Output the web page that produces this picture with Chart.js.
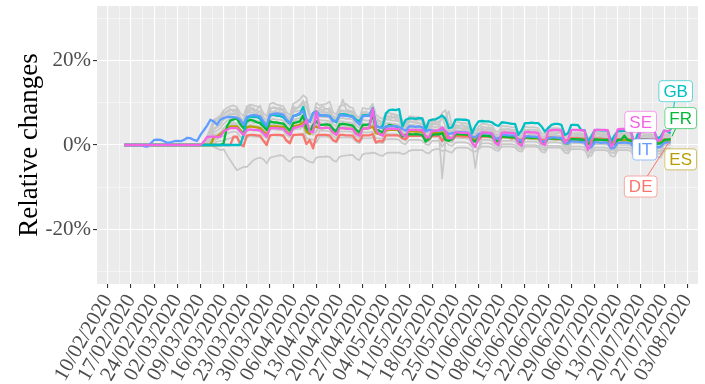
<!DOCTYPE html>
<html>
<head>
<meta charset="utf-8">
<script src="https://cdn.jsdelivr.net/npm/chart.js@4.4.0/dist/chart.umd.min.js"></script>
<style>
  html, body { margin: 0; padding: 0; background: #fff; }
  canvas { display: block; }
</style>
</head>
<body>
<canvas id="chart" width="705" height="384"></canvas>
<script>
// week ticks (Mondays); x values are days after 10/02/2020
const weekLabels = ['10/02/2020', '17/02/2020', '24/02/2020', '02/03/2020', '09/03/2020', '16/03/2020',
  '23/03/2020', '30/03/2020', '06/04/2020', '13/04/2020', '20/04/2020', '27/04/2020', '04/05/2020',
  '11/05/2020', '18/05/2020', '25/05/2020', '01/06/2020', '08/06/2020', '15/06/2020', '22/06/2020',
  '29/06/2020', '06/07/2020', '13/07/2020', '20/07/2020', '27/07/2020', '03/08/2020'];
const firstDay = 5; // 15/02/2020
const yTickValues = [-30, -20, -10, 0, 10, 20, 30];
const countries = ['DE', 'ES', 'FR', 'GB', 'IT', 'SE'];

// daily relative changes in %, one row per week (Mon..Sun), from 15/02/2020 to 29/07/2020
const de = [0, 0,
  0, 0, 0, 0, 0, 0, 0,
  0, 0, 0, 0, 0, 0, 0,
  0, 0, 0, 0, 0, 0, 0,
  0, 0, 0, 0, 0, 0, 0,
  0, 0, 0, 2.0, 2.0, 0.2, -0.3,
  2.2, 2.4, 2.4, 2.3, 2.2, 1.0, 0.0,
  2.3, 2.4, 2.4, 2.4, 2.3, 1.0, 0.4,
  2.4, 2.4, 2.5, 2.4, 0.2, 1.2, -0.8,
  2.2, 2.4, 2.4, 2.4, 2.3, 1.2, 0.8,
  2.4, 2.4, 2.3, 2.3, 2.2, 1.2, 0.8,
  2.3, 2.3, 2.3, 2.6, 0.6, 1.0, 0.8,
  2.3, 2.3, 2.3, 2.3, 2.2, 1.6, 1.4,
  2.2, 2.2, 2.2, 2.2, 2.1, 1.5, 1.3,
  2.1, 2.1, 2.2, 1.0, 2.0, 1.5, 1.3,
  2.1, 2.1, 2.0, 2.0, 2.0, 1.4, 1.2,
  1.2, 2.0, 2.0, 2.0, 1.9, 1.4, 1.2,
  2.0, 2.0, 2.0, 1.5, 1.9, 1.4, 1.2,
  1.9, 1.9, 1.9, 1.9, 1.8, 1.3, 1.2,
  1.8, 1.8, 1.7, 1.7, 1.7, 1.2, 1.1,
  1.6, 1.6, 1.6, 1.5, 1.5, 1.0, 1.0,
  1.5, 1.5, 1.5, 1.4, 1.4, 1.0, 0.9,
  1.4, 1.4, 1.4, 1.4, 1.3, 0.9, 0.9,
  1.4, 1.4, 1.3, 1.3, 1.3, 0.9, 0.9,
  1.3, 1.3, 1.3];
const es = [0, 0,
  0, 0, 0, 0, 0, 0, 0,
  0, 0, 0, 0, 0, 0, 0,
  0, 0, 0, 0, 0, 0, 0,
  0, 0, 0, 0, 1.8, 2.0, 2.6,
  3.2, 3.8, 4.4, 4.4, 4.4, 3.6, 2.8,
  4.2, 4.4, 4.3, 4.2, 4.0, 3.2, 2.4,
  4.4, 4.4, 4.4, 4.3, 4.3, 3.2, 2.4,
  4.4, 4.6, 4.8, 5.4, 3.2, 2.6, 4.0,
  4.4, 4.0, 4.0, 4.1, 4.0, 3.0, 2.6,
  4.0, 4.0, 3.9, 3.9, 3.8, 2.8, 2.4,
  3.9, 3.9, 4.0, 4.4, 2.8, 2.6, 2.4,
  3.4, 3.6, 3.6, 3.6, 3.5, 2.4, 2.2,
  3.2, 3.3, 3.2, 3.2, 3.1, 2.0, 1.8,
  2.8, 2.9, 2.8, 3.0, 2.6, 1.8, 1.6,
  2.4, 2.5, 2.4, 2.4, 2.3, 1.4, 1.2,
  2.2, 2.2, 2.1, 2.1, 2.0, 1.2, 1.0,
  1.9, 1.9, 1.8, 1.8, 1.8, 1.0, 0.9,
  1.7, 1.7, 1.6, 1.6, 1.6, 0.9, 0.8,
  1.5, 1.5, 1.4, 1.4, 1.4, 0.8, 0.7,
  1.3, 1.3, 1.2, 1.2, 1.2, 0.7, 0.6,
  1.2, 1.2, 1.2, 1.1, 1.1, 0.6, 0.6,
  1.1, 1.1, 1.1, 1.1, 1.0, 0.6, 0.6,
  1.1, 1.1, 1.0, 1.0, 1.0, 0.6, 0.6,
  1.0, 1.0, 1.1];
const fr = [0, 0,
  0, 0, 0, 0, 0, 0, 0,
  0, 0, 0, 0, 0, 0, 0,
  0, 0, 0, 0, 0, 0, 0,
  0, 0, 0, 0, 0, 0, 0,
  0.4, 4.4, 5.8, 6.1, 6.3, 5.0, 4.0,
  5.6, 6.0, 5.8, 5.4, 5.2, 4.4, 3.6,
  5.6, 5.4, 5.3, 5.2, 5.1, 4.2, 3.4,
  5.2, 5.4, 5.6, 7.0, 4.0, 3.2, 4.8,
  5.6, 4.8, 4.8, 4.9, 4.8, 3.8, 3.2,
  4.9, 5.0, 4.9, 4.8, 4.6, 3.6, 3.0,
  4.8, 4.8, 4.9, 7.2, 3.6, 3.4, 3.0,
  4.2, 4.8, 4.6, 4.5, 3.2, 2.0, 2.4,
  2.6, 2.5, 2.6, 2.5, 2.4, 0.8, 1.5,
  2.4, 2.5, 2.5, 2.8, 1.2, 1.0, 1.4,
  2.6, 2.6, 2.5, 2.5, 2.4, 1.2, 0.8,
  1.8, 2.2, 2.2, 2.1, 2.0, 1.0, 0.8,
  2.0, 2.0, 1.9, 1.9, 1.8, 0.8, 0.6,
  1.8, 1.8, 1.7, 1.8, 1.7, 0.6, 0.5,
  1.6, 1.6, 1.6, 1.5, 1.5, 0.4, 0.4,
  1.4, 1.4, 1.3, 1.3, 1.2, 0.3, 0.2,
  1.3, 1.3, 1.2, 1.2, 1.2, 0.2, 0.2,
  1.2, 1.2, 2.2, 1.2, 1.1, 0.2, 0.3,
  1.2, 1.2, 1.2, 1.1, 1.1, 0.3, 0.4,
  1.2, 1.3, 1.4];
const gb = [0, 0,
  0, 0, 0, 0, 0, 0, 0,
  0, 0, 0, 0, 0, 0, 0,
  0, 0, 0, 0, 0, 0, 0,
  0, 0, 0, 0, 0, 0, 0,
  0, 0, 0, 0, 0, 0, 2.4,
  6.3, 6.8, 6.6, 6.7, 6.2, 5.0, 4.4,
  7.0, 7.2, 7.0, 6.9, 6.6, 5.8, 5.1,
  6.9, 7.0, 7.3, 9.0, 5.8, 5.5, 7.6,
  8.0, 7.0, 7.1, 7.0, 6.9, 5.9, 5.4,
  7.2, 7.3, 7.2, 7.0, 6.8, 6.0, 5.6,
  7.0, 7.1, 7.0, 8.8, 4.6, 4.2, 4.5,
  7.5, 8.3, 8.4, 8.3, 8.5, 4.4, 6.0,
  6.3, 6.3, 6.2, 6.4, 6.3, 3.6, 5.8,
  6.0, 6.1, 6.5, 7.0, 6.2, 4.0, 4.2,
  6.0, 6.1, 6.0, 6.0, 5.8, 2.8, 4.5,
  5.6, 5.7, 5.6, 5.6, 5.4, 4.8, 4.5,
  5.4, 5.3, 5.2, 5.0, 5.0, 2.4, 3.5,
  5.2, 5.2, 5.3, 5.2, 5.2, 4.4, 3.2,
  4.0, 4.8, 5.0, 5.0, 4.8, 2.4, 2.8,
  4.8, 4.8, 4.7, 3.6, 3.5, 0.8, 2.0,
  3.5, 3.6, 3.5, 3.5, 3.4, 0.8, 2.2,
  3.3, 3.3, 3.4, 3.3, 3.2, 0.2, 2.5,
  3.3, 3.3, 3.4, 3.3, 3.3, 1.5, 2.0,
  3.4, 3.3, 2.8];
const it = [0, 0,
  0, 0, 0, 0, -0.3, -0.4, 0.4,
  1.2, 1.3, 1.2, 0.9, 0.5, 0.6, 0.9,
  1.0, 0.9, 1.2, 1.7, 1.6, 1.2, 1.0,
  2.4, 3.5, 4.6, 6.0, 5.6, 4.8, 6.0,
  6.4, 6.6, 6.7, 6.6, 6.5, 6.0, 4.8,
  6.7, 7.0, 7.1, 7.0, 6.8, 5.6, 4.6,
  7.2, 7.4, 7.5, 7.4, 7.2, 6.0, 5.2,
  6.8, 7.2, 7.6, 8.0, 6.0, 5.5, 7.5,
  7.8, 7.0, 7.1, 7.0, 6.8, 5.6, 5.8,
  7.0, 7.0, 6.9, 6.8, 6.6, 5.6, 4.8,
  6.8, 6.9, 6.9, 8.7, 4.4, 4.2, 4.0,
  4.4, 4.5, 4.4, 4.5, 4.3, 3.8, 3.4,
  4.4, 4.4, 4.3, 4.4, 4.2, 3.2, 3.6,
  3.4, 3.3, 3.4, 3.8, 3.2, 2.6, 2.8,
  3.0, 3.1, 3.0, 3.0, 2.9, 2.0, 1.8,
  2.6, 2.8, 2.8, 2.7, 2.6, 1.6, 1.5,
  2.4, 2.4, 2.3, 2.3, 2.2, 1.2, 1.0,
  2.0, 2.1, 2.0, 2.0, 1.9, 0.8, 0.9,
  1.6, 1.8, 1.8, 1.7, 1.6, 0.5, 0.4,
  0.9, 0.8, 0.8, 0.7, 0.6, -0.8, -0.5,
  0.6, 0.6, 0.5, 0.6, 0.5, -0.8, -0.6,
  0.5, 0.5, 0.6, 0.5, 0.4, -0.8, -0.5,
  0.6, 0.6, 0.5, 0.5, 0.4, -0.6, -0.4,
  0.5, 0.6, 0.6];
const se = [0, 0,
  0, 0, 0, 0, 0, 0, 0,
  0, 0, 0, 0, 0, 0, 0,
  0, 0, 0, 0, 0, 0, 0,
  0, 0.8, 1.9, 2.0, 2.0, 1.9, 2.0,
  3.2, 3.6, 4.0, 4.0, 4.0, 3.2, 2.4,
  3.6, 3.7, 3.6, 3.6, 3.5, 2.8, 2.0,
  4.0, 4.0, 4.0, 3.9, 3.9, 3.0, 2.4,
  4.0, 4.2, 4.4, 4.6, 6.0, 3.2, 3.0,
  8.0, 4.0, 4.0, 4.1, 4.0, 3.0, 2.4,
  4.0, 4.0, 3.9, 3.8, 3.8, 2.6, 2.2,
  3.9, 3.9, 4.0, 8.6, 3.6, 2.6, 2.2,
  3.8, 3.8, 3.9, 3.8, 3.7, 2.4, 2.0,
  3.6, 3.6, 3.6, 3.5, 3.5, 2.0, 1.8,
  3.4, 3.4, 3.6, 4.2, 3.2, 1.6, 1.6,
  3.0, 3.0, 2.9, 2.9, 2.8, 0.6, -0.4,
  1.6, 3.0, 3.0, 2.9, 2.8, 0.6, 0.0,
  2.9, 3.0, 2.9, 2.9, 2.8, 0.4, -0.2,
  3.0, 3.1, 3.0, 3.0, 2.8, 0.4, 0.0,
  3.4, 3.5, 3.6, 3.6, 3.4, 0.6, 1.2,
  3.6, 3.6, 3.6, 3.5, 3.4, -1.2, 0.4,
  3.6, 3.6, 3.6, 3.6, 3.5, -0.4, 0.6,
  3.7, 3.8, 3.8, 3.7, 3.6, -0.4, 0.6,
  3.6, 3.6, 3.6, 3.6, 3.5, 1.0, 1.2,
  3.4, 3.2, 3.6];

// the other countries, drawn in grey
const other1 = [0, 0,
  0, 0, 0, 0, 0, 0, 0,
  0, 0, 0, 0, 0, 0, 0,
  0, 0, 0, 0, 0, 0, 0,
  0, 0.4, 2.0, 4.0, 6.0, 6.4, 7.0,
  8.2, 8.8, 9.2, 9.4, 9.0, 7.6, 6.8,
  9.2, 9.6, 9.4, 9.2, 9.0, 7.6, 6.8,
  9.8, 10.0, 9.6, 9.4, 9.2, 7.8, 7.0,
  9.8, 10.2, 10.8, 11.8, 11.2, 7.4, 7.0,
  10.0, 9.4, 9.6, 9.8, 10.3, 7.8, 7.2,
  9.2, 9.4, 9.8, 9.0, 8.8, 7.0, 6.4,
  8.8, 8.6, 8.6, 9.8, 7.2, 6.6, 6.2,
  7.4, 7.6, 7.4, 7.2, 7.0, 5.8, 5.2,
  6.8, 6.8, 6.6, 6.6, 6.4, 5.0, 4.6,
  6.2, 6.2, 6.4, 7.6, 8.3, 5.0, 4.6,
  5.4, 5.4, 5.2, 5.2, 5.0, 3.8, 3.4,
  4.4, 5.0, 5.0, 4.8, 4.6, 3.4, 3.0,
  4.6, 4.4, 4.4, 4.2, 4.2, 3.0, 2.8,
  4.4, 4.2, 4.2, 4.2, 4.0, 2.8, 2.6,
  4.2, 4.0, 4.0, 4.0, 3.8, 2.4, 2.2,
  3.6, 3.4, 3.4, 3.4, 3.2, 1.8, 1.8,
  3.2, 3.0, 3.0, 3.0, 2.8, 1.6, 1.4,
  3.0, 2.8, 2.8, 2.8, 2.6, 1.4, 1.2,
  2.8, 2.6, 2.6, 2.6, 2.4, 1.2, 1.0,
  2.6, 2.6, 2.6];
const other2 = [0, 0,
  0, 0, 0, 0, 0, 0, 0,
  0, 0, 0, 0, 0, 0, 0,
  0, 0, 0, 0, 0, 0, 0,
  0, 0, 1.2, 3.0, 5.0, 5.4, 6.0,
  7.0, 7.8, 8.2, 8.4, 8.0, 6.6, 5.8,
  8.2, 8.6, 8.4, 8.2, 8.0, 6.4, 5.8,
  8.8, 8.8, 8.6, 8.6, 8.4, 7.0, 6.2,
  8.6, 8.8, 9.2, 10.0, 9.0, 6.6, 6.0,
  9.0, 8.4, 8.4, 8.6, 8.2, 7.0, 6.4,
  8.2, 8.2, 8.0, 8.0, 7.8, 6.4, 5.8,
  7.8, 7.6, 7.6, 8.8, 6.4, 5.8, 5.4,
  6.8, 6.8, 6.6, 6.6, 6.4, 5.2, 4.6,
  6.2, 6.0, 6.0, 6.0, 5.8, 4.6, 4.2,
  5.6, 5.4, 5.6, 6.4, 6.6, 8.0, 4.2,
  4.8, 4.6, 4.6, 4.6, 4.4, 3.2, 2.8,
  3.6, 4.4, 4.2, 4.2, 4.0, 2.8, 2.4,
  3.8, 3.8, 3.8, 3.6, 3.6, 2.4, 2.2,
  3.6, 3.6, 3.6, 3.6, 3.4, 2.2, 2.0,
  3.4, 3.4, 3.4, 3.2, 3.2, 2.0, 1.8,
  2.8, 2.8, 2.8, 2.8, 2.6, 1.4, 1.2,
  2.6, 2.6, 2.6, 2.6, 2.4, 1.2, 1.0,
  2.4, 2.4, 2.4, 2.4, 2.2, 1.0, 0.8,
  2.2, 2.2, 2.2, 2.2, 2.0, 0.8, 0.6,
  2.2, 2.2, 2.2];
const other3 = [0, 0,
  0, 0, 0, 0, 0, 0, 0,
  0, 0, 0, 0, 0, 0, 0,
  0, 0, 0, 0, 0, 0, 0,
  0, 0, 0.6, 2.4, 4.0, 4.4, 5.0,
  6.0, 6.8, 7.2, 7.4, 7.0, 5.6, 4.8,
  7.4, 7.8, 7.6, 7.4, 7.2, 5.8, 5.0,
  7.8, 8.0, 7.8, 7.8, 7.6, 6.2, 5.4,
  7.8, 8.0, 8.2, 8.6, 6.0, 5.4, 5.0,
  7.2, 7.6, 7.6, 7.8, 7.4, 6.0, 5.4,
  7.4, 7.4, 7.2, 7.2, 7.0, 5.6, 5.0,
  7.0, 6.8, 6.8, 7.4, 5.2, 5.0, 4.6,
  6.0, 6.0, 5.8, 5.8, 5.6, 4.4, 4.0,
  5.4, 5.4, 5.2, 5.2, 5.0, 3.8, 3.4,
  5.0, 4.8, 5.0, 3.2, 4.6, 3.4, 3.0,
  4.2, 4.0, 4.0, 4.0, 3.8, 2.6, 2.2,
  2.8, 3.8, 3.6, 3.6, 3.4, 2.2, 1.8,
  3.4, 3.2, 3.2, 3.2, 3.0, 1.8, 1.6,
  3.2, 3.0, 3.0, 3.0, 2.8, 1.6, 1.4,
  3.0, 2.8, 2.8, 2.8, 2.6, 1.4, 1.2,
  2.4, 2.2, 2.2, 2.2, 2.0, 0.8, 0.6,
  2.2, 2.0, 2.0, 2.0, 1.8, 0.6, 0.4,
  2.0, 1.8, 1.8, 1.8, 1.6, 0.4, 0.2,
  1.8, 1.6, 1.6, 1.6, 1.4, 0.2, 0.0,
  1.6, 1.6, 1.6];
const other4 = [0, 0,
  0, 0, 0, 0, 0, 0, 0,
  0, 0, 0, 0, 0, 0, 0,
  0, 0, 0, 0, 0, 0, 0,
  0, 0, 0.4, 1.6, 3.0, 3.4, 4.0,
  5.0, 5.8, 6.2, 6.4, 6.0, 4.6, 3.8,
  6.4, 6.8, 6.6, 6.6, 6.4, 5.0, 4.2,
  6.8, 7.0, 6.8, 6.8, 6.6, 5.2, 4.4,
  7.0, 7.2, 7.4, 8.0, 5.0, 4.6, 4.4,
  5.6, 6.8, 6.6, 6.6, 6.4, 5.0, 4.4,
  6.4, 6.4, 6.2, 6.2, 6.0, 4.6, 4.0,
  6.0, 5.8, 5.8, 6.4, 4.4, 4.2, 3.8,
  5.2, 5.2, 5.0, 5.0, 4.8, 3.6, 3.2,
  4.8, 4.8, 4.6, 4.6, 4.4, 3.2, 2.8,
  4.4, 4.2, 4.4, 2.6, 3.8, 2.8, 2.4,
  3.6, 3.4, 3.4, 3.4, 3.2, 2.0, 1.6,
  2.2, 3.2, 3.0, 3.0, 2.8, 1.6, 1.2,
  3.0, 2.8, 2.8, 2.8, 2.6, 1.4, 1.2,
  2.8, 2.6, 2.6, 2.6, 2.4, 1.2, 1.0,
  2.4, 2.2, 2.2, 2.2, 2.0, 0.8, 0.6,
  2.0, 1.8, 1.8, 1.8, 1.6, 0.4, 0.2,
  1.8, 1.6, 1.6, 1.6, 1.4, 0.2, 0.0,
  1.6, 1.4, 1.4, 1.4, 1.2, 0.0, -0.2,
  1.4, 1.2, 1.2, 1.2, 1.0, -0.2, -0.4,
  1.2, 1.2, 1.2];
const other5 = [0, 0,
  0, 0, 0, 0, 0, 0, 0,
  0, 0, 0, 0, 0, 0, 0,
  0, 0, 0, 0, 0, 0, 0,
  0, 0, 0, 1.0, 2.4, 2.6, 3.0,
  4.0, 4.8, 5.2, 5.4, 5.0, 3.8, 3.0,
  5.6, 6.0, 5.8, 5.8, 5.6, 4.2, 3.4,
  6.0, 6.2, 6.0, 6.0, 5.8, 4.4, 3.6,
  6.0, 6.2, 6.4, 7.4, 4.2, 3.8, 3.6,
  4.6, 6.0, 5.8, 5.8, 5.6, 4.2, 3.6,
  5.6, 5.6, 5.4, 5.4, 5.2, 3.8, 3.2,
  5.2, 5.0, 5.0, 5.6, 3.6, 3.4, 3.0,
  4.6, 4.6, 4.4, 4.4, 4.2, 3.0, 2.6,
  4.2, 4.2, 4.0, 4.0, 3.8, 2.6, 2.2,
  3.8, 3.6, 3.8, 2.0, 3.2, 2.2, 1.8,
  3.2, 3.0, 3.0, 3.0, 2.8, 1.6, 1.2,
  1.6, 2.8, 2.6, 2.6, 2.4, 1.2, 0.8,
  2.4, 2.2, 2.2, 2.2, 2.0, 0.8, 0.6,
  2.2, 2.0, 2.0, 2.0, 1.8, 0.6, 0.4,
  2.0, 1.8, 1.8, 1.8, 1.6, 0.4, 0.2,
  1.6, 1.4, 1.4, 1.4, 1.2, 0.0, -0.2,
  1.4, 1.2, 1.2, 1.2, 1.0, -0.2, -0.4,
  1.2, 1.0, 1.0, 1.0, 0.8, -0.4, -0.6,
  1.0, 0.8, 0.8, 0.8, 0.6, -0.6, -0.8,
  0.8, 0.8, 0.8];
const other6 = [0, 0,
  0, 0, 0, 0, 0, 0, 0,
  0, 0, 0, 0, 0, 0, 0,
  0, 0, 0, 0, 0, 0, 0,
  0, 0, 0, 0.6, 1.6, 2.0, 2.4,
  3.2, 3.8, 4.2, 4.4, 4.0, 3.0, 2.2,
  4.4, 4.8, 4.6, 4.6, 4.4, 3.2, 2.6,
  4.8, 5.0, 4.8, 4.8, 4.6, 3.4, 2.8,
  5.0, 5.2, 5.4, 6.0, 2.8, 2.6, 2.4,
  3.0, 4.8, 4.8, 4.8, 4.6, 3.4, 2.8,
  4.6, 4.4, 4.4, 4.4, 4.2, 3.0, 2.4,
  4.4, 4.2, 4.2, 4.6, 2.8, 2.6, 2.2,
  3.8, 3.8, 3.6, 3.6, 3.4, 2.2, 1.8,
  3.4, 3.4, 3.2, 3.2, 3.0, 1.8, 1.4,
  3.0, 2.8, 2.8, -8.0, 1.0, 1.6, 1.2,
  2.4, 2.4, 2.2, 2.2, 2.0, 0.8, 0.6,
  0.6, 2.0, 1.8, 1.8, 1.6, 0.4, 0.2,
  1.8, 1.6, 1.6, 1.6, 1.4, 0.2, 0.0,
  1.6, 1.4, 1.4, 1.4, 1.2, 0.0, -0.2,
  1.4, 1.2, 1.2, 1.2, 1.0, -0.2, -0.4,
  1.0, 0.8, 0.8, 0.8, 0.6, -0.6, -0.8,
  0.8, 0.6, 0.6, 0.6, 0.4, -0.8, -1.0,
  0.6, 0.4, 0.4, 0.4, 0.2, -1.0, -1.2,
  0.4, 0.2, 0.2, 0.2, 0.0, -1.2, -1.4,
  0.4, 0.4, 0.4];
const other7 = [0, 0,
  0, 0, 0, 0, 0, 0, 0,
  0, 0, 0, 0, 0, 0, 0,
  0, 0, 0, 0, 0, 0, 0,
  0, 0, 0, 0, 1.0, 1.4, 1.8,
  2.2, 2.8, 3.0, 3.2, 3.0, 2.0, 1.4,
  3.2, 3.6, 3.4, 3.4, 3.2, 2.2, 1.6,
  3.6, 3.8, 3.6, 3.6, 3.4, 2.4, 1.8,
  3.6, 3.8, 3.8, 4.4, 1.6, 1.4, 1.2,
  1.6, 3.4, 3.4, 3.4, 3.2, 2.2, 1.6,
  3.2, 3.2, 3.2, 3.2, 3.0, 2.0, 1.6,
  3.0, 3.0, 3.0, 3.2, 1.6, 1.6, 1.4,
  2.8, 2.6, 2.6, 2.6, 2.4, 1.4, 1.0,
  2.6, 2.4, 2.4, 2.4, 2.2, 1.2, 0.8,
  2.2, 2.0, 2.0, 0.6, 1.8, 0.8, 0.6,
  1.8, 1.6, 1.6, 1.6, 1.4, 0.4, -5.5,
  -0.4, 1.2, 1.2, 1.2, 1.0, 0.0, -0.4,
  1.0, 1.0, 1.0, 1.0, 0.8, -0.2, -0.6,
  0.8, 0.8, 0.8, 0.8, 0.6, -0.4, -0.8,
  0.6, 0.6, 0.6, 0.6, 0.4, -0.6, -1.0,
  0.4, 0.4, 0.4, 0.4, 0.2, -3.0, -1.2,
  0.2, 0.2, 0.2, 0.2, 0.0, -1.2, -1.4,
  0.0, 0.0, 0.0, 0.0, -0.2, -1.4, -1.6,
  0.0, 0.0, 0.0, 0.0, -0.2, -1.4, -1.6,
  0.0, 0.0, 0.0];
const other8 = [0, 0,
  0, 0, 0, 0, 0, 0, 0,
  0, 0, 0, 0, 0, 0, 0,
  0, 0, 0, 0, 0, 0, 0,
  0, 0, 0, 0, 0.4, 0.8, 1.0,
  1.0, 1.4, 1.6, 1.8, 1.6, 0.8, 0.4,
  1.8, 2.2, 2.0, 2.0, 1.8, 1.0, 0.6,
  2.2, 2.4, 2.2, 2.2, 2.0, 1.2, 0.8,
  2.2, 2.4, 2.4, 2.8, 0.6, 0.6, 0.4,
  0.6, 2.0, 2.0, 2.0, 1.8, 1.0, 0.6,
  1.8, 1.8, 1.8, 1.8, 1.6, 0.8, 0.4,
  1.6, 1.6, 1.6, 1.8, 0.4, 0.6, 0.4,
  1.4, 1.4, 1.4, 1.4, 1.2, 0.4, 0.2,
  1.2, 1.2, 1.2, 1.2, 1.0, 0.2, 0.0,
  1.0, 1.0, 1.0, -0.4, 0.8, 0.0, -0.2,
  0.6, 0.6, 0.6, 0.6, 0.4, -0.4, -0.6,
  -0.8, 0.4, 0.4, 0.4, 0.2, -0.6, -0.8,
  0.2, 0.2, 0.2, 0.2, 0.0, -0.8, -1.0,
  0.0, 0.0, 0.0, 0.0, -0.2, -1.0, -1.2,
  -0.2, -0.2, -0.2, -0.2, -0.4, -1.2, -1.4,
  -0.4, -0.4, -0.4, -0.4, -0.6, -1.6, -1.8,
  -0.6, -0.6, -0.6, -0.6, -0.8, -1.8, -2.0,
  -0.6, -0.6, -0.6, -0.6, -0.8, -1.8, -2.0,
  -0.8, -0.8, -0.8, -0.8, -1.0, -2.0, -2.2,
  -0.8, -0.8, -0.8];
const other9 = [0, 0,
  0, 0, 0, 0, 0, 0, 0,
  0, 0, 0, 0, 0, 0, 0,
  0, 0, 0, 0, 0, 0, 0,
  0, 0, 0, 0, -0.4, -0.8, -1.2,
  -1.0, -2.4, -3.6, -4.8, -6.0, -5.6, -5.2,
  -5.2, -4.4, -3.6, -3.2, -3.0, -3.4, -4.4,
  -3.0, -2.8, -2.6, -2.4, -2.6, -3.4, -4.0,
  -3.0, -2.8, -2.8, -3.0, -3.6, -4.0, -4.2,
  -3.0, -2.8, -2.8, -2.7, -2.8, -3.6, -4.0,
  -2.8, -2.6, -2.5, -2.4, -2.4, -3.2, -3.6,
  -2.2, -2.0, -2.0, -1.8, -2.0, -2.4, -2.6,
  -2.0, -1.8, -1.8, -1.8, -1.8, -2.2, -2.0,
  -1.4, -1.2, -1.2, -1.2, -1.2, -1.8, -2.0,
  -1.2, -1.0, -1.0, -1.4, -1.2, -1.6, -1.8,
  -0.8, -0.6, -0.6, -0.6, -0.8, -1.4, -1.6,
  -1.0, -0.4, -0.4, -0.4, -0.6, -1.2, -1.4,
  -0.4, -0.4, -0.4, -0.4, -0.6, -1.4, -1.6,
  -0.4, -0.4, -0.4, -0.4, -0.6, -1.6, -1.8,
  -0.6, -0.6, -0.6, -0.6, -0.8, -1.8, -2.0,
  -1.0, -1.0, -1.0, -1.0, -1.2, -2.4, -2.6,
  -1.2, -1.2, -1.2, -1.2, -1.4, -2.6, -2.8,
  -1.2, -1.2, -1.2, -1.2, -1.4, -2.8, -3.0,
  -1.4, -1.4, -1.4, -1.4, -1.6, -2.8, -3.0,
  -1.4, -1.4, -1.4];
const other10 = [0, 0,
  0, 0, 0, 0, 0, 0, 0,
  0, 0, 0, 0, 0, 0, 0,
  0, 0, 0, 0, 0, 0, 0,
  0, 0, 0.8, 3.2, 5.6, 6.0, 6.6,
  7.6, 8.0, 8.6, 7.8, 8.8, 6.2, 5.4,
  8.6, 9.2, 8.0, 8.4, 9.4, 6.8, 5.6,
  8.4, 9.0, 8.8, 8.2, 8.6, 6.4, 5.8,
  9.2, 8.6, 9.4, 10.6, 6.4, 6.0, 5.6,
  6.4, 8.8, 9.2, 8.4, 8.8, 6.6, 6.0,
  8.6, 10.8, 8.4, 8.2, 8.0, 6.2, 5.6,
  7.6, 8.0, 7.4, 7.0, 5.8, 5.6, 5.2,
  7.0, 6.6, 7.4, 6.8, 6.4, 5.0, 4.6,
  6.0, 6.4, 5.8, 6.2, 5.6, 4.4, 4.0,
  5.4, 5.8, 5.2, 3.4, 4.6, 3.6, 3.4,
  4.6, 4.4, 4.8, 4.2, 4.0, 3.0, 2.6,
  2.6, 4.0, 3.6, 4.2, 3.4, 2.4, 2.0,
  3.6, 3.4, 3.8, 3.2, 3.4, 2.0, 1.8,
  3.4, 3.6, 3.0, 3.2, 3.0, 1.8, 1.6,
  3.0, 3.2, 3.4, 2.8, 2.8, 1.4, 1.2,
  2.8, 2.6, 2.4, 2.6, 2.2, 0.8, 0.8,
  2.4, 2.6, 2.2, 2.4, 2.0, 0.6, 0.6,
  2.2, 2.0, 2.4, 2.0, 1.8, 0.4, 0.4,
  2.0, 2.2, 1.8, 2.0, 1.6, 0.2, 0.2,
  1.8, 2.0, 1.8];
const other11 = [0, 0,
  0, 0, 0, 0, 0, 0, 0,
  0, 0, 0, 0, 0, 0, 0,
  0, 0, 0, 0, 0, 0, 0,
  0, 0, 0, 0.8, 2.0, 2.4, 2.8,
  3.6, 4.2, 4.6, 5.0, 4.4, 3.4, 2.6,
  5.0, 5.6, 5.2, 5.4, 5.0, 3.6, 3.0,
  5.4, 5.0, 5.6, 5.2, 5.0, 3.8, 3.2,
  5.6, 5.8, 5.4, 6.6, 3.6, 3.2, 3.0,
  3.4, 5.4, 5.0, 5.2, 5.0, 3.6, 3.0,
  5.0, 5.2, 4.8, 5.0, 4.6, 3.4, 2.8,
  4.8, 4.6, 4.4, 5.0, 3.2, 3.0, 2.6,
  4.0, 4.2, 3.8, 4.0, 3.8, 2.6, 2.2,
  3.6, 3.8, 3.4, 3.6, 3.2, 2.2, 1.8,
  3.2, 3.4, 3.0, 1.4, 2.8, 1.8, 1.4,
  2.8, 2.6, 2.8, 2.4, 2.4, 1.2, 0.8,
  1.0, 2.4, 2.2, 2.4, 2.0, 0.8, 0.4,
  2.0, 2.2, 1.8, 2.0, 1.6, 0.4, 0.2,
  1.8, 1.6, 1.8, 1.4, 1.4, 0.2, 0.0,
  1.6, 1.4, 1.2, 1.4, 1.2, -0.2, -0.4,
  1.2, 1.0, 1.2, 0.8, 0.8, -0.8, -1.0,
  1.0, 0.8, 1.0, 0.6, 0.6, -1.0, -1.2,
  0.8, 0.6, 0.8, 0.4, 0.4, -1.2, -1.4,
  0.6, 0.8, 0.4, 0.6, 0.2, -1.4, -1.6,
  0.6, 0.4, 0.6];
const other12 = [0, 0,
  0, 0, 0, 0, 0, 0, 0,
  0, 0, 0, 0, 0, 0, 0,
  0, 0, 0, 0, 0, 0, 0,
  0, 0, 0.4, 1.8, 3.6, 4.2, 4.8,
  6.4, 7.0, 7.6, 7.2, 7.8, 5.8, 5.0,
  7.8, 8.2, 8.8, 7.6, 8.0, 6.2, 5.4,
  8.2, 7.6, 8.4, 9.0, 8.0, 6.0, 5.2,
  8.0, 8.6, 9.0, 9.6, 10.4, 6.8, 6.2,
  7.0, 7.8, 8.2, 7.6, 8.0, 6.2, 5.6,
  7.8, 8.0, 7.4, 7.8, 7.2, 5.8, 5.2,
  7.2, 7.4, 6.8, 7.8, 5.4, 5.0, 4.8,
  6.4, 6.0, 6.6, 6.2, 5.8, 4.6, 4.2,
  5.8, 5.4, 5.8, 5.2, 5.0, 3.8, 3.4,
  4.8, 5.2, 4.6, 6.8, 4.2, 3.2, 2.8,
  4.0, 4.2, 3.8, 3.6, 3.6, 2.4, 2.0,
  3.8, 3.4, 3.6, 3.2, 3.0, 2.0, 1.6,
  3.2, 3.0, 3.2, 2.8, 2.8, 1.6, 1.2,
  2.8, 3.0, 2.6, 2.8, 2.4, 1.2, 1.0,
  2.6, 2.4, 2.6, 2.2, 2.2, 0.8, 0.6,
  2.2, 2.0, 2.2, 1.8, 1.8, 0.4, 0.2,
  1.8, 2.0, 1.6, 1.8, 1.4, 0.0, -0.2,
  1.6, 1.4, 1.8, 1.4, 1.2, -0.2, -0.4,
  1.4, 1.6, 1.2, 1.4, 1.0, -0.4, -0.6,
  1.4, 1.2, 1.4];

const countrySeries = [de, es, fr, gb, it, se];
const otherSeries = [other1, other2, other3, other4, other5, other6, other7, other8, other9, other10, other11, other12];
const countryColours = ['#F8766D', '#B79F00', '#00BA38', '#00BFC4', '#619CFF', '#F564E3'];

// where each end label sits, relative to the last point of its line (pixels)
const labelPlaces = {
    DE: { dx: -30, dy: 47, segment: true },
    ES: { dx: 10, dy: 19 },
    FR: { dx: 10, dy: -21, segment: true },
    GB: { dx: 5, dy: -42, segment: true },
    IT: { dx: -26, dy: 7 },
    SE: { dx: -30, dy: -8 }
};

const toPoints = values => values.map((v, i) => ({ x: firstDay + i, y: v }));

const xGrid = [];
weekLabels.forEach((label, i) => {
    xGrid.push(i * 7);
    if (i < weekLabels.length - 1) xGrid.push(i * 7 + 3.5);
});

const datasets = [];
otherSeries.forEach((values, i) => {
    datasets.push({
        label: 'other' + (i + 1),
        data: toPoints(values),
        borderColor: '#C8C8C8',
        borderWidth: 1.7,
        order: 100
    });
});
countrySeries.forEach((values, i) => {
    datasets.push({
        label: countries[i],
        data: toPoints(values),
        borderColor: countryColours[i],
        borderWidth: 2.3,
        order: countries.length - i
    });
});

const panelBackground = {
    id: 'panelBackground',
    beforeDraw(chart) {
        const { ctx, chartArea: a } = chart;
        ctx.save();
        ctx.fillStyle = '#FFFFFF';
        ctx.fillRect(0, 0, chart.width, chart.height);
        ctx.fillStyle = '#EBEBEB';
        ctx.fillRect(a.left, a.top, a.right - a.left, a.bottom - a.top);
        ctx.restore();
    }
};

const endLabels = {
    id: 'endLabels',
    afterDatasetsDraw(chart) {
        const ctx = chart.ctx;
        ctx.save();
        ctx.font = '17px "Liberation Sans"';
        const boxes = [];
        chart.data.datasets.forEach((ds, i) => {
            const place = labelPlaces[ds.label];
            if (!place) return;
            const pts = chart.getDatasetMeta(i).data;
            const end = pts[pts.length - 1];
            const w = ctx.measureText(ds.label).width + 9;
            const h = 21;
            boxes.push({ ds, end, cx: end.x + place.dx, cy: end.y + place.dy, w, h, segment: place.segment });
        });
        // connector segments under the labels
        boxes.forEach(b => {
            if (!b.segment) return;
            const vx = b.end.x - b.cx, vy = b.end.y - b.cy;
            const len = Math.hypot(vx, vy);
            const t = Math.min((b.w / 2) / Math.abs(vx || 1e-6), (b.h / 2) / Math.abs(vy || 1e-6));
            ctx.beginPath();
            ctx.moveTo(b.cx + vx * t, b.cy + vy * t);
            ctx.lineTo(b.end.x - vx / len * 3, b.end.y - vy / len * 3);
            ctx.strokeStyle = b.ds.borderColor;
            ctx.lineWidth = 1;
            ctx.stroke();
        });
        boxes.forEach(b => {
            ctx.beginPath();
            ctx.roundRect(b.cx - b.w / 2, b.cy - b.h / 2, b.w, b.h, 3);
            ctx.fillStyle = '#FFFFFF';
            ctx.fill();
            ctx.globalAlpha = 0.6;
            ctx.strokeStyle = b.ds.borderColor;
            ctx.lineWidth = 1;
            ctx.stroke();
            ctx.globalAlpha = 1;
            ctx.fillStyle = b.ds.borderColor;
            ctx.textAlign = 'center';
            ctx.textBaseline = 'middle';
            ctx.fillText(b.ds.label, b.cx, b.cy + 1);
        });
        ctx.restore();
    }
};

const tickFont = { family: 'Liberation Serif', size: 21 };

new Chart(document.getElementById('chart'), {
    type: 'line',
    data: { datasets },
    options: {
        responsive: false,
        animation: false,
        layout: { padding: { top: 6, right: 7, left: 0, bottom: 0 } },
        plugins: {
            legend: { display: false },
            tooltip: { enabled: false }
        },
        elements: {
            point: { radius: 0 },
            line: { tension: 0, borderJoinStyle: 'round' }
        },
        scales: {
            x: {
                type: 'linear',
                min: -3.25,
                max: 178.25,
                afterBuildTicks: scale => { scale.ticks = xGrid.map(v => ({ value: v })); },
                afterFit: scale => { scale.height = 100; scale.paddingLeft = 0; scale.paddingRight = 0; },
                border: { display: false },
                grid: {
                    color: '#FFFFFF',
                    lineWidth: c => (c.tick && c.tick.value % 7 === 0) ? 1.1 : 0.5,
                    tickLength: 4,
                    tickColor: c => (c.tick && c.tick.value % 7 === 0) ? '#333333' : 'rgba(0,0,0,0)'
                },
                ticks: {
                    autoSkip: false,
                    minRotation: 60,
                    maxRotation: 60,
                    padding: 2,
                    color: '#4D4D4D',
                    font: tickFont,
                    callback: v => v % 7 === 0 ? weekLabels[v / 7] : ''
                }
            },
            y: {
                type: 'linear',
                min: -33,
                max: 33,
                afterBuildTicks: scale => { scale.ticks = yTickValues.map(v => ({ value: v })); },
                afterFit: scale => { scale.width = 97; scale.paddingTop = 0; scale.paddingBottom = 0; },
                border: { display: false },
                grid: {
                    color: '#FFFFFF',
                    lineWidth: c => (c.tick && c.tick.value % 20 === 0) ? 1.1 : 0.5,
                    tickLength: 4,
                    tickColor: c => (c.tick && c.tick.value % 20 === 0) ? '#333333' : 'rgba(0,0,0,0)'
                },
                ticks: {
                    padding: 2,
                    color: '#4D4D4D',
                    font: tickFont,
                    callback: v => v % 20 === 0 ? v + '%' : ''
                },
                title: {
                    display: true,
                    text: 'Relative changes',
                    color: '#000000',
                    font: { family: 'Liberation Serif', size: 27 },
                    padding: { top: 14, bottom: 0 }
                }
            }
        }
    },
    plugins: [panelBackground, endLabels]
});
</script>
</body>
</html>
